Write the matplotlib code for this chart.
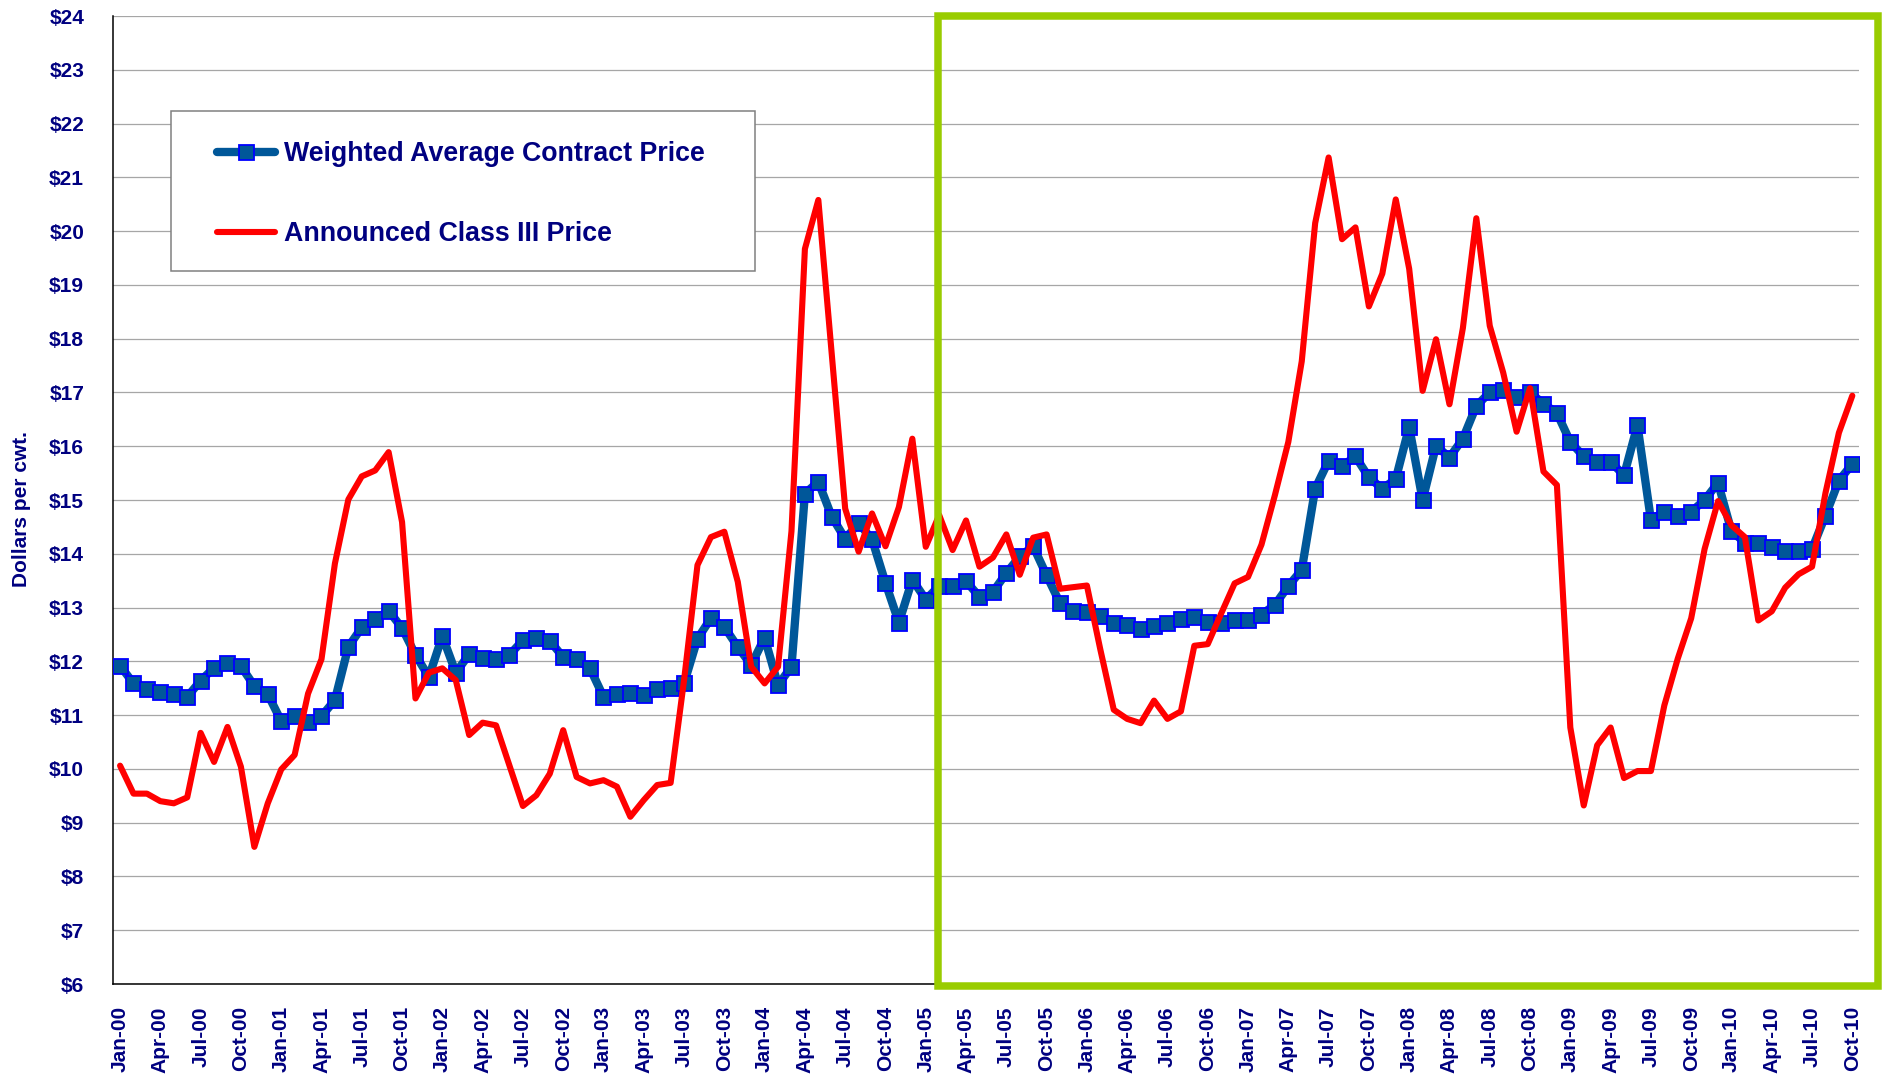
import matplotlib
matplotlib.use("Agg")
import matplotlib.pyplot as plt
from matplotlib.lines import Line2D
from matplotlib.patches import Rectangle
import numpy as np

# ---------------- data (Jan-00 .. Oct-10, monthly) ----------------
start_year = 2000
n_months = 130

contract_price = [
    11.92, 11.59, 11.49, 11.43, 11.39, 11.34, 11.64, 11.88, 11.96, 11.91, 11.54, 11.39,   # 2000
    10.89, 10.98, 10.88, 10.98, 11.28, 12.27, 12.63, 12.78, 12.94, 12.62, 12.12, 11.71,   # 2001
    12.47, 11.79, 12.13, 12.07, 12.05, 12.12, 12.39, 12.44, 12.38, 12.08, 12.04, 11.87,   # 2002
    11.34, 11.40, 11.42, 11.37, 11.48, 11.51, 11.59, 12.42, 12.80, 12.64, 12.27, 11.93,   # 2003
    12.44, 11.56, 11.90, 15.12, 15.34, 14.69, 14.28, 14.57, 14.27, 13.46, 12.72, 13.52,   # 2004
    13.15, 13.40, 13.40, 13.49, 13.20, 13.29, 13.64, 13.95, 14.14, 13.60, 13.08, 12.93,   # 2005
    12.92, 12.85, 12.72, 12.68, 12.61, 12.66, 12.72, 12.79, 12.83, 12.74, 12.72, 12.76,   # 2006
    12.76, 12.87, 13.05, 13.40, 13.70, 15.21, 15.73, 15.63, 15.81, 15.42, 15.21, 15.39,   # 2007
    16.36, 15.00, 16.01, 15.79, 16.14, 16.75, 17.00, 17.05, 16.91, 17.00, 16.79, 16.62,   # 2008
    16.08, 15.81, 15.71, 15.71, 15.46, 16.39, 14.63, 14.78, 14.70, 14.78, 15.00, 15.32,   # 2009
    14.42, 14.21, 14.20, 14.13, 14.05, 14.06, 14.09, 14.71, 15.36, 15.67,                 # 2010
]

class3_price = [
    10.06, 9.54, 9.54, 9.40, 9.36, 9.47, 10.67, 10.13, 10.78, 10.04, 8.55, 9.36,          # 2000
    9.99, 10.26, 11.40, 12.04, 13.82, 15.01, 15.44, 15.55, 15.89, 14.59, 11.31, 11.79,    # 2001
    11.87, 11.65, 10.63, 10.86, 10.81, 10.06, 9.31, 9.51, 9.91, 10.72, 9.85, 9.73,        # 2002
    9.79, 9.67, 9.11, 9.42, 9.70, 9.74, 11.65, 13.79, 14.31, 14.41, 13.48, 11.90,         # 2003
    11.59, 11.90, 14.42, 19.67, 20.58, 17.70, 14.84, 14.04, 14.75, 14.14, 14.87, 16.14,   # 2004
    14.13, 14.72, 14.07, 14.62, 13.76, 13.93, 14.36, 13.61, 14.30, 14.36, 13.35, 13.38,   # 2005
    13.41, 12.22, 11.10, 10.93, 10.85, 11.27, 10.93, 11.07, 12.29, 12.32, 12.89, 13.45,   # 2006
    13.57, 14.17, 15.09, 16.08, 17.58, 20.15, 21.37, 19.85, 20.07, 18.60, 19.21, 20.59,   # 2007
    19.30, 17.03, 17.99, 16.78, 18.20, 20.24, 18.24, 17.37, 16.27, 17.08, 15.53, 15.28,   # 2008
    10.77, 9.32, 10.44, 10.77, 9.83, 9.96, 9.96, 11.18, 12.05, 12.80, 14.09, 14.98,       # 2009
    14.53, 14.31, 12.76, 12.93, 13.37, 13.62, 13.76, 15.13, 16.25, 16.94,                 # 2010
]

series_labels = ["Weighted Average Contract Price", "Announced Class III Price"]
month_names = ["Jan", "Feb", "Mar", "Apr", "May", "Jun", "Jul", "Aug", "Sep", "Oct", "Nov", "Dec"]
y_ticks = list(range(6, 25))

# highlighted period (green box), in month index / dollars
box_x0, box_x1 = 60.9, 130.9
box_y0, box_y1 = 5.96, 24.0

# ---------------- styling ----------------
navy = "#000080"
blue = "#005799"
red = "#FF0000"
green = "#99CC00"
font = "Liberation Sans"

months = np.arange(n_months)
tick_pos = months[::3]
tick_labels = [f"{month_names[m % 12]}-{(start_year + m // 12) % 100:02d}" for m in tick_pos]

# ============================ Plotting ============================
fig = plt.figure(figsize=(18.86, 10.76), dpi=100)
ax = fig.add_axes([0.0601, 0.0855, 0.9256, 0.8996])

ax.plot(months, contract_price, color=blue, lw=6.0, marker="s", markersize=10.8,
        markerfacecolor=blue, markeredgecolor="#0000FF", markeredgewidth=1.3,
        solid_joinstyle="round", solid_capstyle="round", zorder=3)
ax.plot(months, class3_price, color=red, lw=4.4,
        solid_joinstyle="round", solid_capstyle="round", zorder=4)

ax.set_xlim(-0.5, n_months - 0.5)
ax.set_ylim(6, 24)
ax.set_yticks(y_ticks)
ax.set_yticklabels([f"${v}" for v in y_ticks])
ax.set_xticks(tick_pos)
ax.set_xticklabels(tick_labels, rotation=90)

for lab in ax.get_xticklabels() + ax.get_yticklabels():
    lab.set_fontfamily(font)
    lab.set_fontweight("bold")
    lab.set_fontsize(15)
    lab.set_color(navy)
ax.tick_params(axis="y", length=0, pad=21)
ax.tick_params(axis="x", length=0, pad=16)

ax.yaxis.grid(True, color="#A6A6A6", lw=0.9)
ax.set_axisbelow(True)
for side in ["top", "right"]:
    ax.spines[side].set_visible(False)
for side in ["left", "bottom"]:
    ax.spines[side].set_color("black")
    ax.spines[side].set_linewidth(1.1)

fig.text(22 / 1886, 1 - 509 / 1076, "Dollars per cwt.", rotation=90, ha="center", va="center",
         fontfamily=font, fontweight="bold", fontsize=15, color=navy)

# green box around Jan-05 onwards
ax.add_patch(Rectangle((box_x0, box_y0), box_x1 - box_x0, box_y1 - box_y0, fill=False,
                       edgecolor=green, lw=5.4, clip_on=False, zorder=6))

# legend: frame drawn separately so the padding can match
ax.add_patch(Rectangle((0.033, 0.7366), 0.3347, 0.1653, transform=ax.transAxes,
                       facecolor="white", edgecolor="#808080", lw=1.1, zorder=7))
handles = [
    Line2D([], [], color=blue, lw=6.0, marker="s", markersize=10.8, markerfacecolor=blue,
           markeredgecolor="#0000FF", markeredgewidth=1.3, solid_capstyle="round"),
    Line2D([], [], color=red, lw=4.4, solid_capstyle="round"),
]
leg = ax.legend(handles, series_labels, loc="upper left", bbox_to_anchor=(0.0595, 0.871),
                frameon=False, borderpad=0, borderaxespad=0, handlelength=2.15,
                handletextpad=0.35, labelspacing=2.02,
                prop={"family": font, "weight": "bold", "size": 19.3})
leg.set_zorder(8)
for t in leg.get_texts():
    t.set_color(navy)

fig.savefig("out.png", dpi=100)
